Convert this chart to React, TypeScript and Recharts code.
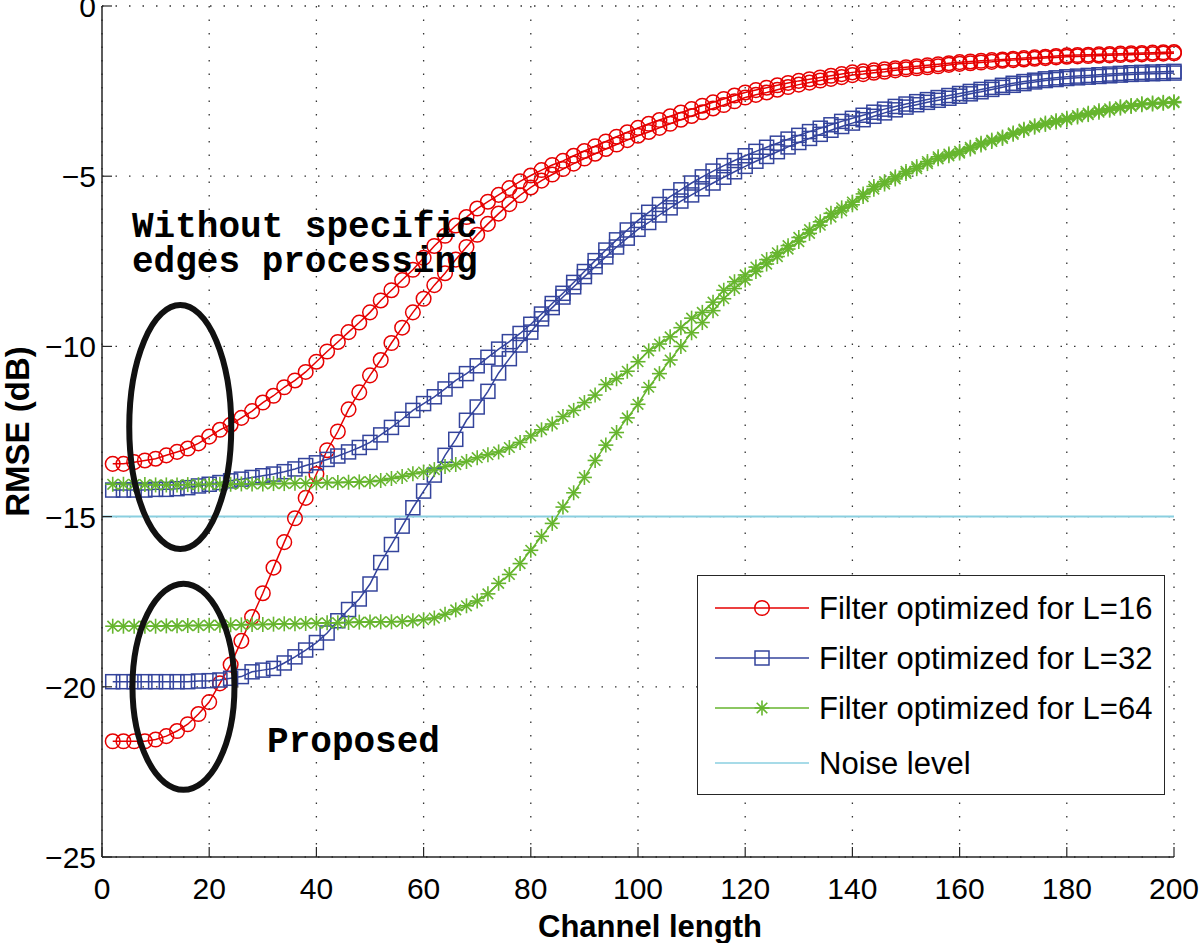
import React from "react";
import {
  LineChart,
  Line,
  XAxis,
  YAxis,
  CartesianGrid,
  ReferenceLine,
  ReferenceDot,
  Label,
} from "recharts";

// channel length (x) of every simulated point
const CHANNEL_LENGTH = [
  2, 4, 6, 8, 10, 12, 14, 16, 18, 20, 22, 24, 26, 28, 30, 32, 34, 36, 38, 40,
  42, 44, 46, 48, 50, 52, 54, 56, 58, 60, 62, 64, 66, 68, 70, 72, 74, 76, 78, 80,
  82, 84, 86, 88, 90, 92, 94, 96, 98, 100, 102, 104, 106, 108, 110, 112, 114, 116, 118, 120,
  122, 124, 126, 128, 130, 132, 134, 136, 138, 140, 142, 144, 146, 148, 150, 152, 154, 156, 158, 160,
  162, 164, 166, 168, 170, 172, 174, 176, 178, 180, 182, 184, 186, 188, 190, 192, 194, 196, 198, 200,
];

// RMSE (dB), filter optimized for L=16
const L16_WITHOUT = [
  -13.45, -13.45, -13.4, -13.35, -13.3, -13.2, -13.1, -13.0, -12.85, -12.65,
  -12.45, -12.3, -12.1, -11.9, -11.65, -11.45, -11.2, -11.0, -10.75, -10.45,
  -10.15, -9.87, -9.58, -9.3, -9.0, -8.65, -8.35, -8.05, -7.75, -7.4,
  -7.05, -6.75, -6.45, -6.2, -5.95, -5.75, -5.55, -5.35, -5.15, -4.98,
  -4.82, -4.67, -4.55, -4.4, -4.26, -4.12, -3.98, -3.84, -3.71, -3.58,
  -3.46, -3.35, -3.24, -3.13, -3.03, -2.93, -2.83, -2.73, -2.63, -2.54,
  -2.47, -2.4, -2.33, -2.26, -2.2, -2.15, -2.1, -2.05, -2.0, -1.95,
  -1.92, -1.89, -1.86, -1.83, -1.8, -1.77, -1.74, -1.71, -1.68, -1.65,
  -1.63, -1.61, -1.59, -1.57, -1.55, -1.53, -1.51, -1.49, -1.47, -1.45,
  -1.44, -1.43, -1.42, -1.41, -1.4, -1.39, -1.38, -1.37, -1.36, -1.35,
];
const L16_PROPOSED = [
  -21.6, -21.6, -21.6, -21.6, -21.55, -21.45, -21.3, -21.1, -20.8, -20.45,
  -19.9, -19.35, -18.65, -17.95, -17.25, -16.5, -15.75, -15.05, -14.45, -13.75,
  -13.05, -12.5, -11.85, -11.35, -10.85, -10.4, -9.9, -9.45, -9.0, -8.6,
  -8.2, -7.85, -7.45, -7.08, -6.72, -6.4, -6.1, -5.82, -5.56, -5.33,
  -5.13, -4.95, -4.79, -4.63, -4.48, -4.34, -4.2, -4.07, -3.94, -3.81,
  -3.7, -3.58, -3.46, -3.34, -3.23, -3.12, -3.01, -2.91, -2.8, -2.69,
  -2.61, -2.54, -2.46, -2.38, -2.31, -2.25, -2.19, -2.14, -2.09, -2.03,
  -2.0, -1.96, -1.93, -1.89, -1.86, -1.83, -1.8, -1.77, -1.73, -1.7,
  -1.68, -1.66, -1.64, -1.61, -1.59, -1.57, -1.55, -1.53, -1.51, -1.49,
  -1.48, -1.47, -1.46, -1.45, -1.44, -1.43, -1.42, -1.41, -1.4, -1.39,
];

// filter optimized for L=32
const L32_WITHOUT = [
  -14.22, -14.22, -14.22, -14.22, -14.2, -14.2, -14.18, -14.15, -14.1, -14.05,
  -14.0, -13.95, -13.9, -13.85, -13.8, -13.75, -13.68, -13.6, -13.5, -13.42,
  -13.32, -13.22, -13.1, -12.97, -12.82, -12.6, -12.38, -12.14, -11.88, -11.68,
  -11.48, -11.25, -11.0, -10.8, -10.57, -10.32, -10.08, -9.86, -9.62, -9.35,
  -9.05, -8.74, -8.44, -8.12, -7.8, -7.48, -7.17, -6.87, -6.58, -6.3,
  -6.06, -5.83, -5.6, -5.4, -5.2, -5.02, -4.85, -4.69, -4.54, -4.4,
  -4.27, -4.15, -4.03, -3.91, -3.8, -3.69, -3.59, -3.49, -3.39, -3.3,
  -3.21, -3.12, -3.03, -2.95, -2.88, -2.81, -2.75, -2.69, -2.63, -2.57,
  -2.51, -2.45, -2.39, -2.33, -2.27, -2.22, -2.18, -2.14, -2.11, -2.08,
  -2.06, -2.04, -2.02, -2.0, -1.98, -1.96, -1.95, -1.94, -1.93, -1.92,
];
const L32_PROPOSED = [
  -19.85, -19.85, -19.85, -19.85, -19.85, -19.85, -19.85, -19.85, -19.83, -19.82,
  -19.8, -19.75, -19.7, -19.56, -19.51, -19.46, -19.3, -19.12, -18.92, -18.7,
  -18.42, -18.06, -17.73, -17.42, -16.98, -16.35, -15.82, -15.28, -14.74, -14.25,
  -13.78, -13.2, -12.73, -12.17, -11.78, -11.32, -10.78, -10.36, -9.96, -9.58,
  -9.19, -8.86, -8.55, -8.25, -7.95, -7.66, -7.37, -7.08, -6.82, -6.56,
  -6.36, -6.14, -5.93, -5.73, -5.55, -5.37, -5.2, -5.03, -4.87, -4.71,
  -4.56, -4.42, -4.28, -4.14, -4.01, -3.89, -3.77, -3.65, -3.54, -3.44,
  -3.34, -3.24, -3.14, -3.05, -2.97, -2.9, -2.83, -2.77, -2.71, -2.65,
  -2.58, -2.52, -2.45, -2.39, -2.33, -2.28, -2.23, -2.19, -2.16, -2.13,
  -2.11, -2.09, -2.07, -2.05, -2.03, -2.01, -2.0, -1.99, -1.98, -1.97,
];

// filter optimized for L=64
const L64_WITHOUT = [
  -14.05, -14.05, -14.06, -14.06, -14.07, -14.07, -14.07, -14.06, -14.06, -14.05,
  -14.05, -14.05, -14.04, -14.04, -14.04, -14.03, -14.03, -14.02, -14.02, -14.01,
  -14.0, -14.0, -13.99, -13.98, -13.97, -13.94, -13.88, -13.82, -13.74, -13.69,
  -13.62, -13.53, -13.47, -13.38, -13.27, -13.18, -13.1, -12.97, -12.82, -12.63,
  -12.45, -12.28, -12.06, -11.88, -11.65, -11.43, -11.12, -10.95, -10.73, -10.45,
  -10.13, -9.93, -9.72, -9.45, -9.17, -9.0, -8.7, -8.35, -8.1, -7.9,
  -7.67, -7.45, -7.25, -7.04, -6.8, -6.57, -6.34, -6.09, -5.93, -5.76,
  -5.52, -5.3, -5.16, -5.02, -4.86, -4.72, -4.57, -4.43, -4.35, -4.27,
  -4.15, -4.03, -3.94, -3.85, -3.73, -3.62, -3.52, -3.44, -3.37, -3.3,
  -3.22, -3.15, -3.08, -3.02, -2.96, -2.92, -2.87, -2.85, -2.83, -2.81,
];
const L64_PROPOSED = [
  -18.22, -18.22, -18.22, -18.22, -18.22, -18.21, -18.21, -18.2, -18.2, -18.19,
  -18.19, -18.18, -18.18, -18.17, -18.17, -18.16, -18.15, -18.15, -18.14, -18.13,
  -18.12, -18.12, -18.11, -18.1, -18.1, -18.09, -18.09, -18.08, -18.06, -18.03,
  -17.98, -17.87, -17.74, -17.62, -17.48, -17.27, -16.96, -16.7, -16.38, -15.99,
  -15.58, -15.2, -14.72, -14.3, -13.85, -13.35, -12.9, -12.53, -12.1, -11.7,
  -11.2, -10.8, -10.4, -10.0, -9.6, -9.3, -8.95, -8.6, -8.3, -8.05,
  -7.8, -7.58, -7.36, -7.14, -6.92, -6.68, -6.44, -6.2, -6.02, -5.84,
  -5.6, -5.38, -5.23, -5.08, -4.92, -4.78, -4.63, -4.49, -4.4, -4.32,
  -4.2, -4.08, -3.98, -3.89, -3.77, -3.66, -3.56, -3.48, -3.41, -3.34,
  -3.26, -3.19, -3.12, -3.06, -3.0, -2.95, -2.9, -2.88, -2.86, -2.84,
];

const NOISE_LEVEL = -15;

const X_TICKS = [0, 20, 40, 60, 80, 100, 120, 140, 160, 180, 200];
const Y_TICKS = [-25, -20, -15, -10, -5, 0];

const LEGEND_LABELS = [
  "Filter optimized for L=16",
  "Filter optimized for L=32",
  "Filter optimized for L=64",
  "Noise level",
];

const RED = "#e60000";
const BLUE = "#34449c";
const GREEN = "#66b52e";
const CYAN = "#8acfe0";
const AXIS = "#262626";
const SANS = "'Liberation Sans', Arial, Helvetica, sans-serif";
const MONO = "'Liberation Mono', 'Courier New', monospace";
const TICK_LEN = 10;

const data = CHANNEL_LENGTH.map((x, i) => ({
  x,
  l16w: L16_WITHOUT[i],
  l16p: L16_PROPOSED[i],
  l32w: L32_WITHOUT[i],
  l32p: L32_PROPOSED[i],
  l64w: L64_WITHOUT[i],
  l64p: L64_PROPOSED[i],
}));

const fmt = (v: number) => (v < 0 ? "\u2212" + Math.abs(v) : String(v));

function circleMark(cx: number, cy: number, key?: string) {
  return <circle key={key} cx={cx} cy={cy} r={7.3} fill="none" stroke={RED} strokeWidth={1.5} />;
}
function squareMark(cx: number, cy: number, key?: string) {
  return (
    <rect key={key} x={cx - 7} y={cy - 7} width={14} height={14} fill="none" stroke={BLUE} strokeWidth={1.5} />
  );
}
function starMark(cx: number, cy: number, key?: string) {
  const s = 7.5;
  const d = 5.3;
  return (
    <g key={key} stroke={GREEN} strokeWidth={1.6}>
      <line x1={cx - s} y1={cy} x2={cx + s} y2={cy} />
      <line x1={cx} y1={cy - s} x2={cx} y2={cy + s} />
      <line x1={cx - d} y1={cy - d} x2={cx + d} y2={cy + d} />
      <line x1={cx - d} y1={cy + d} x2={cx + d} y2={cy - d} />
    </g>
  );
}

const dotFn = (mark: typeof circleMark) => (p: any) =>
  mark(p.cx, p.cy, `${p.dataKey}-${p.index}`);

const BottomTick = (p: any) => (
  <g>
    <line x1={p.x} x2={p.x} y1={p.y} y2={p.y - TICK_LEN} stroke={AXIS} strokeWidth={1.2} />
    <text x={p.x} y={p.y + 42} textAnchor="middle" fontSize={30} fontFamily={SANS} fill="#000">
      {fmt(p.payload.value)}
    </text>
  </g>
);
const TopTick = (p: any) => (
  <line x1={p.x} x2={p.x} y1={p.y} y2={p.y + TICK_LEN} stroke={AXIS} strokeWidth={1.2} />
);
const LeftTick = (p: any) => (
  <g>
    <line x1={p.x} x2={p.x + TICK_LEN} y1={p.y} y2={p.y} stroke={AXIS} strokeWidth={1.2} />
    <text x={p.x - 6} y={p.y + 11} textAnchor="end" fontSize={30} fontFamily={SANS} fill="#000">
      {fmt(p.payload.value)}
    </text>
  </g>
);
const RightTick = (p: any) => (
  <line x1={p.x} x2={p.x - TICK_LEN} y1={p.y} y2={p.y} stroke={AXIS} strokeWidth={1.2} />
);

const ellipse = (rx: number, ry: number) => (p: any) =>
  <ellipse cx={p.cx} cy={p.cy} rx={rx} ry={ry} fill="none" stroke="#111" strokeWidth={6} />;

const note = (lines: string[]) => (p: any) => (
  <text x={p.cx} y={p.cy} fontSize={36} fontWeight="bold" fontFamily={MONO} fill="#000">
    {lines.map((t, i) => (
      <tspan key={i} x={p.cx} dy={i === 0 ? 0 : 35} style={{ whiteSpace: "pre" }}>
        {t}
      </tspan>
    ))}
  </text>
);

function LegendBox() {
  const rows = [32, 82, 132, 187];
  const marks = [circleMark, squareMark, starMark, null];
  const colors = [RED, BLUE, GREEN, CYAN];
  return (
    <div
      style={{
        position: "absolute",
        left: 697,
        top: 575,
        width: 466,
        height: 218,
        border: `1.5px solid ${AXIS}`,
        background: "#fff",
      }}
    >
      <svg width={466} height={218}>
        {LEGEND_LABELS.map((label, i) => {
          const y = rows[i];
          const m = marks[i];
          return (
            <g key={label}>
              <line x1={17} x2={111} y1={y} y2={y} stroke={colors[i]} strokeWidth={1.5} />
              {m ? m(64, y) : null}
              <text x={121} y={y + 11} fontSize={31} fontFamily={SANS} fill="#000">
                {label}
              </text>
            </g>
          );
        })}
      </svg>
    </div>
  );
}

export default function App() {
  return (
    <div style={{ position: "absolute", left: 0, top: 0, width: 1200, height: 943, background: "#fff" }}>
      <LineChart width={1200} height={943} data={data} margin={{ top: 6, right: 26, bottom: 0, left: 0 }}>
        <CartesianGrid stroke="#333" strokeWidth={1.3} strokeDasharray="1.5 12" />
        <XAxis
          dataKey="x"
          type="number"
          domain={[0, 200]}
          ticks={X_TICKS}
          interval={0}
          height={86}
          tickSize={0}
          tickMargin={0}
          tickLine={false}
          tick={BottomTick}
          axisLine={{ stroke: AXIS, strokeWidth: 1.5 }}
        >
          <Label
            content={(p: any) => (
              <text
                x={p.viewBox.x + p.viewBox.width / 2 + 12}
                y={p.viewBox.y + 80}
                textAnchor="middle"
                fontSize={31}
                fontWeight="bold"
                fontFamily={SANS}
                fill="#000"
              >
                Channel length
              </text>
            )}
          />
        </XAxis>
        <XAxis
          xAxisId="top"
          orientation="top"
          type="number"
          domain={[0, 200]}
          allowDataOverflow
          ticks={X_TICKS}
          interval={0}
          height={0}
          tickSize={0}
          tickMargin={0}
          tickLine={false}
          tick={TopTick}
          axisLine={{ stroke: AXIS, strokeWidth: 1.5 }}
        />
        <YAxis
          type="number"
          domain={[-25, 0]}
          ticks={Y_TICKS}
          interval={0}
          width={102}
          tickSize={0}
          tickMargin={0}
          tickLine={false}
          tick={LeftTick}
          axisLine={{ stroke: AXIS, strokeWidth: 1.5 }}
        >
          <Label
            content={(p: any) => {
              const cx = 17;
              const cy = p.viewBox.y + p.viewBox.height / 2;
              return (
                <text
                  x={cx}
                  y={cy}
                  transform={`rotate(-90 ${cx} ${cy})`}
                  textAnchor="middle"
                  dominantBaseline="central"
                  fontSize={33}
                  fontWeight="bold"
                  fontFamily={SANS}
                  fill="#000"
                >
                  RMSE (dB)
                </text>
              );
            }}
          />
        </YAxis>
        <YAxis
          yAxisId="right"
          orientation="right"
          type="number"
          domain={[-25, 0]}
          allowDataOverflow
          ticks={Y_TICKS}
          interval={0}
          width={0}
          tickSize={0}
          tickMargin={0}
          tickLine={false}
          tick={RightTick}
          axisLine={{ stroke: AXIS, strokeWidth: 1.5 }}
        />

        <ReferenceLine y={NOISE_LEVEL} stroke={CYAN} strokeWidth={2} />

        <Line type="linear" dataKey="l16w" stroke={RED} strokeWidth={1.5} dot={dotFn(circleMark)} activeDot={false} isAnimationActive={false} />
        <Line type="linear" dataKey="l16p" stroke={RED} strokeWidth={1.5} dot={dotFn(circleMark)} activeDot={false} isAnimationActive={false} />
        <Line type="linear" dataKey="l32w" stroke={BLUE} strokeWidth={1.5} dot={dotFn(squareMark)} activeDot={false} isAnimationActive={false} />
        <Line type="linear" dataKey="l32p" stroke={BLUE} strokeWidth={1.5} dot={dotFn(squareMark)} activeDot={false} isAnimationActive={false} />
        <Line type="linear" dataKey="l64w" stroke={GREEN} strokeWidth={1.5} dot={dotFn(starMark)} activeDot={false} isAnimationActive={false} />
        <Line type="linear" dataKey="l64p" stroke={GREEN} strokeWidth={1.5} dot={dotFn(starMark)} activeDot={false} isAnimationActive={false} />

        <ReferenceDot x={14.6} y={-12.37} r={0} ifOverflow="visible" shape={ellipse(51, 122)} />
        <ReferenceDot x={15.2} y={-20.0} r={0} ifOverflow="visible" shape={ellipse(51, 103)} />
        <ReferenceDot x={5.6} y={-6.79} r={0} ifOverflow="visible" shape={note(["Without specific", "edges processing"])} />
        <ReferenceDot x={30.8} y={-21.92} r={0} ifOverflow="visible" shape={note(["Proposed"])} />
      </LineChart>
      <LegendBox />
    </div>
  );
}
